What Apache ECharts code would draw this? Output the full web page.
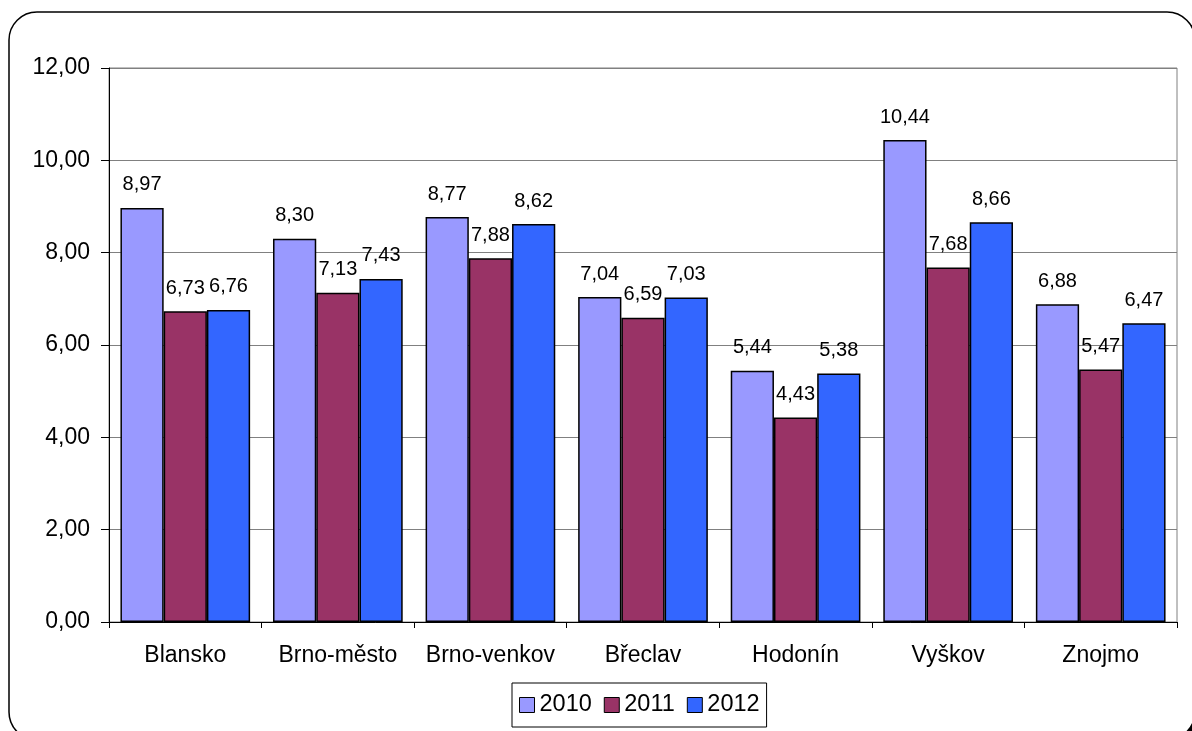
<!DOCTYPE html>
<html>
<head>
<meta charset="utf-8">
<script src="https://cdn.jsdelivr.net/npm/echarts@6/dist/echarts.min.js"></script>
<style>html,body{margin:0;padding:0;background:#fff}#c{width:1192px;height:731px}</style>
</head>
<body>
<div id="c"></div>
<script>
const categories = ['Blansko', 'Brno-město', 'Brno-venkov', 'Břeclav', 'Hodonín', 'Vyškov', 'Znojmo'];
const seriesNames = ['2010', '2011', '2012'];
const values2010 = [8.97, 8.30, 8.77, 7.04, 5.44, 10.44, 6.88];
const values2011 = [6.73, 7.13, 7.88, 6.59, 4.43, 7.68, 5.47];
const values2012 = [6.76, 7.43, 8.62, 7.03, 5.38, 8.66, 6.47];
const colors = ['#9999FF', '#993366', '#3366FF'];

const fmt = v => Number(v).toFixed(2).replace('.', ',');
const font = 'Liberation Sans, Arial, sans-serif';
const chart = echarts.init(document.getElementById('c'));
const data = [values2010, values2011, values2012];
chart.setOption({
  animation: false,
  textStyle: { fontFamily: font, color: '#000' },
  graphic: [{
    type: 'rect', z: -10, silent: true,
    shape: { x: 9, y: 12, width: 1186, height: 728, r: 28 },
    style: { fill: '#fff', stroke: '#000', lineWidth: 1.5 }
  }, {
    type: 'rect', z: -11, silent: true,
    shape: { x: 13, y: 16, width: 1186, height: 728, r: 28 },
    style: { fill: '#000' }
  }],
  grid: { left: 109, right: 15, top: 68, bottom: 109, show: true, borderColor: '#808080', borderWidth: 1, backgroundColor: 'transparent' },
  legend: {
    data: seriesNames, left: 512, top: 683,
    borderColor: '#000', borderWidth: 1, padding: [10, 7, 10, 7],
    itemGap: 12, itemWidth: 15, itemHeight: 15, icon: 'rect',
    textStyle: { fontSize: 23.5, fontFamily: font, color: '#000' },
    itemStyle: { borderColor: '#000', borderWidth: 1 }
  },
  xAxis: {
    type: 'category', data: categories,
    axisLine: { lineStyle: { color: '#000', width: 1 } },
    axisTick: { show: true, length: 6, lineStyle: { color: '#000' } },
    axisLabel: { fontSize: 23, color: '#000', margin: 22, fontFamily: font, interval: 0 },
    splitLine: { show: false }
  },
  yAxis: {
    type: 'value', min: 0, max: 12, interval: 2,
    axisLine: { show: true, lineStyle: { color: '#000', width: 1 } },
    axisTick: { show: true, length: 8, lineStyle: { color: '#000' } },
    axisLabel: { fontSize: 23, color: '#000', margin: 19, fontFamily: font, formatter: fmt },
    splitLine: { show: true, lineStyle: { color: '#808080', width: 1 } }
  },
  series: seriesNames.map((n, i) => ({
    name: n, type: 'bar', data: data[i],
    barGap: '0%', barCategoryGap: '15%',
    itemStyle: { color: colors[i], borderColor: '#000', borderWidth: 1.5 },
    label: { show: true, position: 'top', distance: 13, fontSize: 20, color: '#000', fontFamily: font, formatter: p => fmt(p.value) }
  }))
});
</script>
</body>
</html>
